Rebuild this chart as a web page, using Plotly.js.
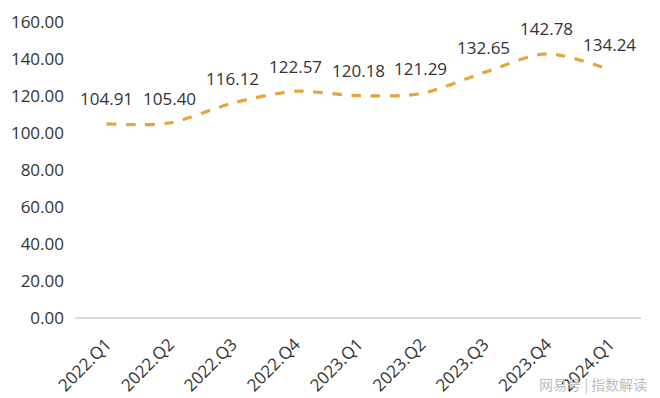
<!DOCTYPE html>
<html>
<head>
<meta charset="utf-8">
<script src="https://cdn.plot.ly/plotly-3.0.1.min.js"></script>
<style>html,body{margin:0;padding:0;background:#fff;}#chart{width:660px;height:398px;}</style>
</head>
<body>
<div id="chart"></div>
<script>
const categories = ["2022.Q1","2022.Q2","2022.Q3","2022.Q4","2023.Q1","2023.Q2","2023.Q3","2023.Q4","2024.Q1"];
const values = [104.91,105.40,116.12,122.57,120.18,121.29,132.65,142.78,134.24];
const yTicks = [0,20,40,60,80,100,120,140,160];

const font = "'Open Sans','Noto Sans CJK SC',sans-serif";
const trace = {
  x: categories, y: values, type: 'scatter', mode: 'lines',
  line: {color: '#E9A33B', width: 3.2, dash: 'dash', shape: 'spline', smoothing: 0.8},
  hoverinfo: 'skip'
};
const annotations = categories.map((c, i) => ({
  x: c, y: values[i], xref: 'x', yref: 'y', text: values[i].toFixed(2),
  showarrow: false, yshift: 25, font: {family: font, size: 17, color: '#333'}
}));
annotations.push({
  xref: 'paper', yref: 'paper', x: 1.015, y: -0.222, xanchor: 'right', yanchor: 'middle',
  text: '网易号 | 指数解读', showarrow: false,
  font: {family: "'Noto Sans CJK SC',sans-serif", size: 14, color: '#bdbdbd'}
});
const layout = {
  width: 660, height: 398,
  margin: {l: 75, r: 19, t: 22, b: 80},
  paper_bgcolor: '#fff', plot_bgcolor: '#fff',
  showlegend: false,
  xaxis: {
    type: 'category', range: [-0.5, 8.5], tickangle: -45, automargin: false,
    showgrid: false, zeroline: false, showline: false, ticks: '', ticklabelstandoff: 12,
    tickfont: {family: font, size: 17, color: '#333'}
  },
  yaxis: {
    range: [0, 160], tickvals: yTicks, ticktext: yTicks.map(v => v.toFixed(2)),
    showgrid: false, zeroline: true, zerolinecolor: '#d9d9d9', zerolinewidth: 2,
    showline: false, ticks: '', ticklabelstandoff: 10, automargin: false,
    tickfont: {family: font, size: 17, color: '#333'}
  },
  annotations: annotations
};
Plotly.newPlot('chart', [trace], layout, {displayModeBar: false, staticPlot: true});
</script>
</body>
</html>
